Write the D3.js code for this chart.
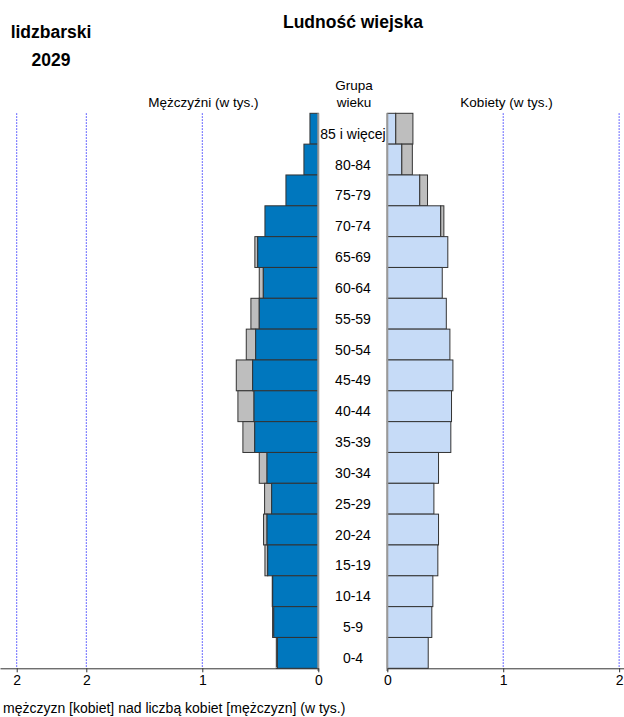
<!DOCTYPE html>
<html><head><meta charset="utf-8">
<script src="https://cdn.jsdelivr.net/npm/d3@7"></script>
<style>body{margin:0;background:#fff}svg{display:block;font-family:"Liberation Sans",Arial,sans-serif}</style>
</head><body><svg id="c" width="624" height="717"></svg>
<script>
const ageGroups = ["85 i więcej","80-84","75-79","70-74","65-69","60-64","55-59","50-54","45-49","40-44","35-39","30-34","25-29","20-24","15-19","10-14","5-9","0-4"];
const men   = [0.072,0.124,0.279,0.460,0.547,0.509,0.581,0.621,0.707,0.693,0.650,0.509,0.463,0.472,0.460,0.397,0.394,0.362];
const women = [0.221,0.216,0.347,0.488,0.522,0.474,0.509,0.540,0.566,0.554,0.548,0.442,0.402,0.442,0.436,0.393,0.384,0.353];
const leftTicks = [0,1,2,2.6];
const leftTickLabels = ["0","1","2","2"];
const rightTicks = [0,1,2];
const rightTickLabels = ["0","1","2"];

const svg = d3.select("#c");
const plotTop = 113.3, plotBottom = 668.3;
const y = d3.scaleBand().domain(ageGroups).range([plotTop, plotBottom]).padding(0);
const xL = d3.scaleLinear().domain([0, 2.744]).range([318.3, 0]);
const xR = d3.scaleLinear().domain([0, 2.042]).range([387.3, 624]);

const cBlue = "#0077be", cLight = "#c6dbf7", cGray = "#bebebe", cStroke = "#333";
const gridColor = "#3a3aff";

// gridlines
svg.append("g").selectAll("line").data(leftTicks.filter(d => d > 0)).join("line")
  .attr("x1", d => xL(d)).attr("x2", d => xL(d)).attr("y1", plotTop).attr("y2", plotBottom)
  .attr("stroke", gridColor).attr("stroke-width", 1).attr("stroke-dasharray", "1.5,1.5");
svg.append("g").selectAll("line").data(rightTicks.filter(d => d > 0)).join("line")
  .attr("x1", d => xR(d)).attr("x2", d => xR(d)).attr("y1", plotTop).attr("y2", plotBottom)
  .attr("stroke", gridColor).attr("stroke-width", 1).attr("stroke-dasharray", "1.5,1.5");

const rows = ageGroups.map((g, i) => ({g, m: men[i], w: women[i], mn: Math.min(men[i], women[i])}));

// left: gray excess then blue
svg.append("g").selectAll("rect").data(rows.filter(d => d.m > d.mn)).join("rect")
  .attr("x", d => xL(d.m)).attr("width", d => xL(d.mn) - xL(d.m))
  .attr("y", d => y(d.g)).attr("height", y.bandwidth())
  .attr("fill", cGray).attr("stroke", cStroke).attr("stroke-width", 1);
svg.append("g").selectAll("rect").data(rows).join("rect")
  .attr("x", d => xL(d.mn)).attr("width", d => xL(0) - xL(d.mn))
  .attr("y", d => y(d.g)).attr("height", y.bandwidth())
  .attr("fill", cBlue).attr("stroke", cStroke).attr("stroke-width", 1);
// right
svg.append("g").selectAll("rect").data(rows.filter(d => d.w > d.mn)).join("rect")
  .attr("x", d => xR(d.mn)).attr("width", d => xR(d.w) - xR(d.mn))
  .attr("y", d => y(d.g)).attr("height", y.bandwidth())
  .attr("fill", cGray).attr("stroke", cStroke).attr("stroke-width", 1);
svg.append("g").selectAll("rect").data(rows).join("rect")
  .attr("x", xR(0)).attr("width", d => xR(d.mn) - xR(0))
  .attr("y", d => y(d.g)).attr("height", y.bandwidth())
  .attr("fill", cLight).attr("stroke", cStroke).attr("stroke-width", 1);

// center gray lines
[xL(0), xR(0)].forEach(x => svg.append("line").attr("x1", x).attr("x2", x)
  .attr("y1", plotTop).attr("y2", 671).attr("stroke", "#999").attr("stroke-width", 2));

// age labels
svg.append("g").selectAll("text").data(ageGroups).join("text")
  .attr("x", 353).attr("y", d => y(d) + y.bandwidth() / 2 + 10)
  .attr("text-anchor", "middle").attr("font-size", 14).attr("fill", "#000").text(d => d);

// axes
const axL = d3.axisBottom(xL).tickValues(leftTicks).tickSize(4).tickSizeOuter(0)
  .tickFormat((d, i) => leftTickLabels[i]);
const axR = d3.axisBottom(xR).tickValues(rightTicks).tickSize(4).tickSizeOuter(0)
  .tickFormat((d, i) => rightTickLabels[i]);
[axL, axR].forEach(ax => {
  const g = svg.append("g").attr("transform", `translate(0,${plotBottom})`).call(ax);
  g.select(".domain").attr("stroke", "#333");
  g.selectAll(".tick line").attr("stroke", "#333");
  g.selectAll(".tick text").attr("font-size", 14).attr("fill", "#000")
    .attr("font-family", '"Liberation Sans",Arial,sans-serif').attr("dy", "0.72em").attr("y", 7);
});

// titles
svg.append("text").attr("x", 353).attr("y", 28).attr("text-anchor", "middle")
  .attr("font-size", 17.5).attr("font-weight", "bold").text("Ludność wiejska");
svg.append("text").attr("x", 51).attr("y", 38).attr("text-anchor", "middle")
  .attr("font-size", 17.5).attr("font-weight", "bold").text("lidzbarski");
svg.append("text").attr("x", 51).attr("y", 66).attr("text-anchor", "middle")
  .attr("font-size", 17.5).attr("font-weight", "bold").text("2029");
svg.append("text").attr("x", 354).attr("y", 90).attr("text-anchor", "middle")
  .attr("font-size", 13.5).text("Grupa");
svg.append("text").attr("x", 354).attr("y", 107).attr("text-anchor", "middle")
  .attr("font-size", 13.5).text("wieku");
svg.append("text").attr("x", 203.5).attr("y", 107).attr("text-anchor", "middle")
  .attr("font-size", 13.5).text("Mężczyźni (w tys.)");
svg.append("text").attr("x", 506.5).attr("y", 107).attr("text-anchor", "middle")
  .attr("font-size", 13.5).text("Kobiety (w tys.)");
svg.append("text").attr("x", 3).attr("y", 713)
  .attr("font-size", 14).text("mężczyzn [kobiet] nad liczbą kobiet [mężczyzn] (w tys.)");
</script></body></html>
